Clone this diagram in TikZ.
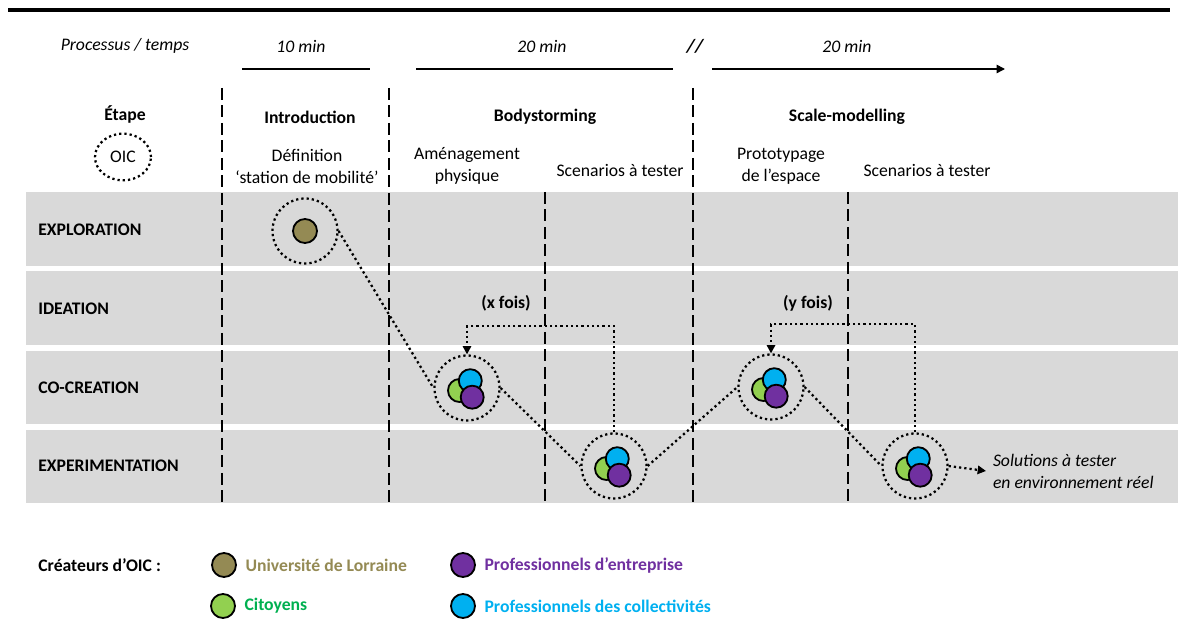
\documentclass[tikz,border=0pt]{standalone}
\usepackage{fontspec}
\setmainfont{Carlito}
\usetikzlibrary{positioning, arrows.meta, shapes.geometric}

\definecolor{bandgray}{HTML}{D9D9D9}
\definecolor{unilor}{HTML}{948A54}
\definecolor{citoyen}{HTML}{92D050}
\definecolor{citoyentxt}{HTML}{00B050}
\definecolor{entreprise}{HTML}{7030A0}
\definecolor{collectiv}{HTML}{00B0F0}

\begin{document}
\begin{tikzpicture}[
    x=0.6pt, y=-0.6pt,
    every node/.style={font=\fontsize{10.6}{13.2}\selectfont},
    oic/.style={
        circle, draw=black, line width=1.35pt,
        dash pattern=on 1.35pt off 1.8pt,
        minimum size=39pt, inner sep=0pt
    },
    dot/.style={
        circle, draw=black, line width=1.1pt,
        minimum size=13.8pt, inner sep=0pt
    },
    link/.style={line width=1.35pt, dash pattern=on 1.35pt off 1.8pt},
    tip/.style={-{Triangle[length=5pt, width=5pt]}},
    phase/.style={line width=0.9pt, dash pattern=on 7pt off 3.5pt},
    tline/.style={line width=0.9pt},
    rowlab/.style={anchor=west, inner sep=0pt, font=\fontsize{10.6}{13.2}\selectfont\bfseries},
    head/.style={font=\fontsize{10.6}{13.2}\selectfont\bfseries},
    sub/.style={align=center},
    legtxt/.style={inner sep=0pt, font=\fontsize{10.6}{13.2}\selectfont\bfseries}
]
\useasboundingbox (0,0) rectangle (1178,634);

%% ── Frame line and time axis ───────────────────────────────────────
\draw[line width=2.6pt] (8,10) -- (1170,10);

\node[font=\fontsize{10.6}{13.2}\selectfont\itshape] (t-proc) at (125,46) {Processus / temps};
\node[font=\fontsize{10.6}{13.2}\selectfont\itshape] (t-10)   at (301,46) {10 min};
\node[font=\fontsize{10.6}{13.2}\selectfont\itshape] (t-20a)  at (542,46) {20 min};
\node[font=\fontsize{11.5}{13.2}\selectfont\bfseries\itshape] (t-cut) at (695,46) {//};
\node[font=\fontsize{10.6}{13.2}\selectfont\itshape] (t-20b)  at (847,46) {20 min};

\draw[tline] (242,69) -- (370,69);
\draw[tline] (416,69) -- (673,69);
\draw[tline, tip] (712,69) -- (1005,69);

%% ── Grey bands (one per stage) ─────────────────────────────────────
\foreach \ytop/\ybot in {192/266, 271/345, 351/424, 430/503}
    \fill[bandgray] (26,\ytop) rectangle (1178,\ybot);

\node[rowlab] (r-expl) at (38,230) {EXPLORATION};
\node[rowlab] (r-idea) at (38,309) {IDEATION};
\node[rowlab] (r-cocr) at (38,388) {CO-CREATION};
\node[rowlab] (r-expe) at (38,466) {EXPERIMENTATION};

%% ── Phase separators ───────────────────────────────────────────────
\foreach \xx in {222, 389, 693}
    \draw[phase] (\xx,88) -- (\xx,503);
\foreach \xx in {545, 848}
    \draw[phase] (\xx,192) -- (\xx,503);

%% ── Column headers ─────────────────────────────────────────────────
\node[head] (h-etape) at (125,114) {Étape};
\node[ellipse, draw=black, line width=1.35pt, dash pattern=on 1.35pt off 1.8pt,
      minimum width=33.6pt, minimum height=28pt, inner sep=0pt]
    (h-oic) at (123,157) {OIC};

\node[head] (h-intro) at (310,117) {Introduction};
\node[head] (h-body)  at (545,117) {Bodystorming};
\node[head] (h-scale) at (847,117) {Scale-modelling};

\node[sub] (s-def)   at (307,166) {Définition\\‘station de mobilité’};
\node[sub] (s-amen)  at (467,166) {Aménagement\\physique};
\node[sub] (s-scen1) at (620,170) {Scenarios à tester};
\node[sub] (s-proto) at (781,166) {Prototypage\\de l’espace};
\node[sub] (s-scen2) at (927,170) {Scenarios à tester};

%% ── OIC groups ─────────────────────────────────────────────────────
\node[oic] (e) at (305,231) {};
\node[dot, fill=unilor, minimum size=14.4pt] (e-u) at (305,231) {};

\foreach \n/\px/\py in {c1/467/388, x1/614/466, c2/771/387, x2/915/466} {
    \node[oic] (\n) at (\px,\py) {};
    \node[dot, fill=citoyen]    (\n-g) at (\px-7.5,\py+2.5) {};
    \node[dot, fill=collectiv]  (\n-b) at (\px+3.3,\py-7.3) {};
    \node[dot, fill=entreprise] (\n-p) at (\px+5.2,\py+9.2) {};
}

%% ── Path between groups ────────────────────────────────────────────
\draw[link] (e.east)  -- (c1.west);
\draw[link] (c1.east) -- (x1.west);
\draw[link] (x1.east) -- (c2.west);
\draw[link] (c2.east) -- (x2.west);

%% Iteration loops
\draw[link, tip] (x1.north) -- ++(0,-106) -| (c1.north);
\draw[link, tip] (x2.north) -- ++(0,-108) -| (c2.north);
\node[head] (n-x) at (506,303) {(x fois)};
\node[head] (n-y) at (808,303) {(y fois)};

%% Outcome
\node[anchor=west, align=left, inner sep=4pt,
      font=\fontsize{10.6}{13.2}\selectfont\itshape]
    (sol) at (986,471) {Solutions à tester\\en environnement réel};
\draw[link, tip] (x2.east) -- (sol.west);

%% ── Legend ─────────────────────────────────────────────────────────
\node[legtxt, anchor=west] (l-title) at (38,565) {Créateurs d’OIC :};

\node[dot, fill=unilor, minimum size=14.4pt]     (l-u) at (224,565) {};
\node[dot, fill=citoyen, minimum size=14.4pt]    (l-c) at (223,606) {};
\node[dot, fill=entreprise, minimum size=14.4pt] (l-e) at (463,565) {};
\node[dot, fill=collectiv, minimum size=14.4pt]  (l-k) at (463,606) {};

\node[legtxt, text=unilor,     right=5pt of l-u] {Université de Lorraine};
\node[legtxt, text=citoyentxt, right=5pt of l-c] {Citoyens};
\node[legtxt, text=entreprise, right=5pt of l-e] {Professionnels d’entreprise};
\node[legtxt, text=collectiv,  right=5pt of l-k] {Professionnels des collectivités};

\end{tikzpicture}
\end{document}
